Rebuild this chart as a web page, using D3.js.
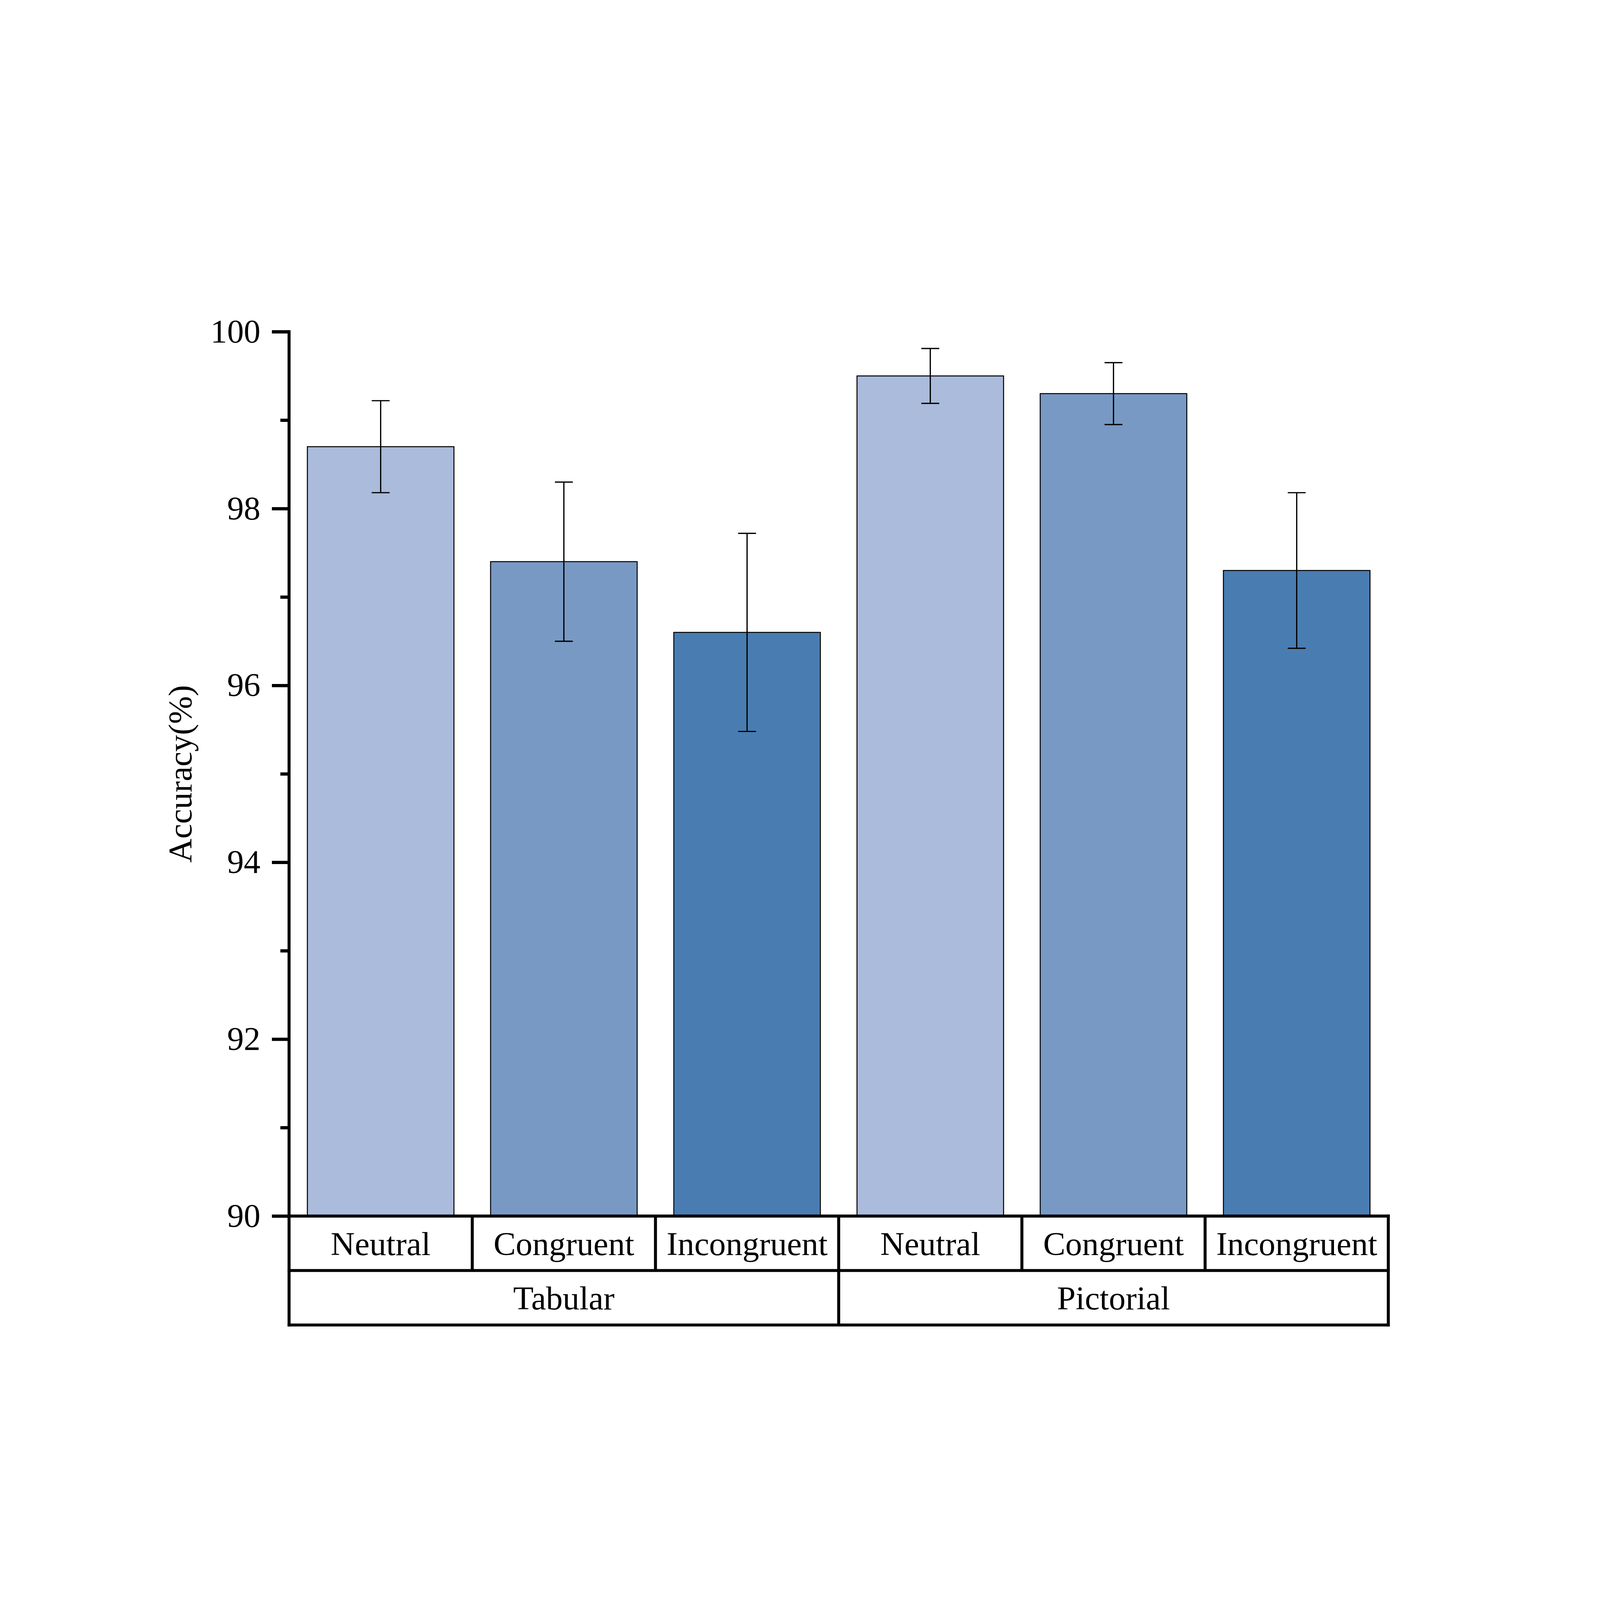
<!DOCTYPE html>
<html>
<head>
<meta charset="utf-8">
<script src="https://cdn.jsdelivr.net/npm/d3@7"></script>
<style>
  html, body { margin: 0; padding: 0; background: #fff; overflow: hidden; }
  text { font-family: "Liberation Serif", "Times New Roman", serif; }
</style>
</head>
<body>
<div id="chart"></div>
<script>
// data
var groups = ["Tabular", "Pictorial"];
var conditions = ["Neutral", "Congruent", "Incongruent"];
var accuracy = [98.70, 97.40, 96.60, 99.50, 99.30, 97.30];
var errors = [0.52, 0.90, 1.12, 0.31, 0.35, 0.88];
var colors = ["#AABBDB", "#7899C4", "#497DB2"];
var majorTicks = [90, 92, 94, 96, 98, 100];
var minorTicks = [91, 93, 95, 97, 99];

var W = 6432, H = 4923;
var plotLeft = 1162, plotRight = 5581, plotTop = 579, plotBottom = 4134;
var rowH = 219;

var rows = [];
groups.forEach(function(g, gi) {
  conditions.forEach(function(c, ci) {
    var i = gi * conditions.length + ci;
    rows.push({key: g + "-" + c, group: g, cond: c, ci: ci, value: accuracy[i], err: errors[i]});
  });
});

// the window may be smaller than the chart, so scale the drawing to fit it
var svg = d3.select("#chart").append("svg")
    .attr("viewBox", "0 0 " + W + " " + H)
    .attr("preserveAspectRatio", "xMidYMid meet")
    .attr("width", window.innerWidth)
    .attr("height", window.innerHeight)
    .style("display", "block");

var x = d3.scaleBand()
    .domain(rows.map(function(d) { return d.key; }))
    .range([plotLeft, plotRight])
    .paddingInner(0.2)
    .paddingOuter(0.1);

var y = d3.scaleLinear()
    .domain([90, 100])
    .range([plotBottom, plotTop]);

// bars
svg.selectAll("rect.bar")
    .data(rows)
    .enter()
    .append("rect")
    .attr("class", "bar")
    .attr("x", function(d) { return x(d.key); })
    .attr("y", function(d) { return y(d.value); })
    .attr("width", x.bandwidth())
    .attr("height", function(d) { return y(90) - y(d.value); })
    .attr("fill", function(d) { return colors[d.ci]; })
    .attr("stroke", "#000")
    .attr("stroke-width", 4);

// error bars
var capW = 72;
function cx(d) { return x(d.key) + x.bandwidth() / 2; }
var eb = svg.selectAll("g.err")
    .data(rows)
    .enter()
    .append("g")
    .attr("class", "err")
    .attr("stroke", "#000")
    .attr("stroke-width", 5);
eb.append("line")
    .attr("x1", cx)
    .attr("x2", cx)
    .attr("y1", function(d) { return y(d.value + d.err); })
    .attr("y2", function(d) { return y(d.value - d.err); });
eb.append("line")
    .attr("x1", function(d) { return cx(d) - capW / 2; })
    .attr("x2", function(d) { return cx(d) + capW / 2; })
    .attr("y1", function(d) { return y(d.value + d.err); })
    .attr("y2", function(d) { return y(d.value + d.err); });
eb.append("line")
    .attr("x1", function(d) { return cx(d) - capW / 2; })
    .attr("x2", function(d) { return cx(d) + capW / 2; })
    .attr("y1", function(d) { return y(d.value - d.err); })
    .attr("y2", function(d) { return y(d.value - d.err); });

// y axis
var yAxis = svg.append("g")
    .attr("transform", "translate(" + plotLeft + ",0)")
    .call(d3.axisLeft(y).tickValues(majorTicks).tickSize(69).tickPadding(46).tickFormat(d3.format("d")));
yAxis.select(".domain").remove();
yAxis.selectAll(".tick line").attr("stroke", "#000").attr("stroke-width", 13);
yAxis.selectAll(".tick text")
    .attr("font-size", 134)
    .attr("fill", "#000")
    .attr("font-family", "Liberation Serif, Times New Roman, serif");

var yMinor = svg.append("g")
    .attr("transform", "translate(" + plotLeft + ",0)")
    .call(d3.axisLeft(y).tickValues(minorTicks).tickSize(35).tickFormat(""));
yMinor.select(".domain").remove();
yMinor.selectAll(".tick line").attr("stroke", "#000").attr("stroke-width", 13);

svg.append("line")
    .attr("x1", plotLeft).attr("x2", plotLeft)
    .attr("y1", plotTop - 6).attr("y2", plotBottom + 2 * rowH + 6)
    .attr("stroke", "#000").attr("stroke-width", 12);

svg.append("text")
    .attr("transform", "translate(" + 770 + "," + ((plotTop + plotBottom) / 2) + ") rotate(-90)")
    .attr("text-anchor", "middle")
    .attr("font-size", 134)
    .text("Accuracy(%)");

// category table under the axis
var lineW = 12;
function hline(x1, x2, yy) {
  svg.append("line").attr("x1", x1).attr("x2", x2).attr("y1", yy).attr("y2", yy)
      .attr("stroke", "#000").attr("stroke-width", lineW);
}
function vline(xx, y1, y2) {
  svg.append("line").attr("x1", xx).attr("x2", xx).attr("y1", y1).attr("y2", y2)
      .attr("stroke", "#000").attr("stroke-width", lineW);
}
hline(plotLeft - 6, plotRight + 6, plotBottom);
hline(plotLeft - 6, plotRight + 6, plotBottom + rowH);
hline(plotLeft - 6, plotRight + 6, plotBottom + 2 * rowH);
vline(plotRight, plotBottom - 6, plotBottom + 2 * rowH + 6);

var step = x.step();
rows.forEach(function(d, i) {
  var edge = x(d.key) - step * x.paddingInner() / 2;
  if (i > 0) vline(edge, plotBottom, plotBottom + rowH);
});
var mid = x(rows[conditions.length].key) - step * x.paddingInner() / 2;
vline(mid, plotBottom + rowH, plotBottom + 2 * rowH);

svg.selectAll("text.cond")
    .data(rows)
    .enter()
    .append("text")
    .attr("class", "cond")
    .attr("x", cx)
    .attr("y", plotBottom + rowH / 2)
    .attr("dy", "0.35em")
    .attr("text-anchor", "middle")
    .attr("font-size", 134)
    .text(function(d) { return d.cond; });

svg.selectAll("text.group")
    .data(groups)
    .enter()
    .append("text")
    .attr("class", "group")
    .attr("x", function(g, gi) { return gi === 0 ? (plotLeft + mid) / 2 : (mid + plotRight) / 2; })
    .attr("y", plotBottom + rowH * 1.5)
    .attr("dy", "0.35em")
    .attr("text-anchor", "middle")
    .attr("font-size", 134)
    .text(function(g) { return g; });
</script>
</body>
</html>
